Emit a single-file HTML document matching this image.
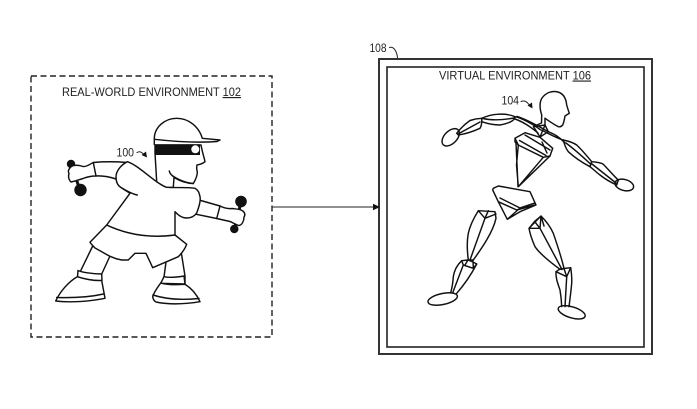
<!DOCTYPE html>
<html><head><meta charset="utf-8"><style>
html,body{margin:0;padding:0;background:#fff;width:697px;height:409px;overflow:hidden}
svg{display:block}
text{font-family:"Liberation Sans",sans-serif;font-size:11.5px;fill:#222}
.l{fill:none;stroke:#111;stroke-width:1.45;stroke-linejoin:round;stroke-linecap:round}
.f{fill:#fff;stroke:#111;stroke-width:1.45;stroke-linejoin:round}
.t{fill:none;stroke:#222;stroke-width:1;stroke-linejoin:round;stroke-linecap:round}
</style></head><body>
<svg width="697" height="409" viewBox="0 0 697 409" xmlns="http://www.w3.org/2000/svg">
<rect x="31" y="76" width="241" height="261" fill="none" stroke="#222" stroke-width="1.4" stroke-dasharray="6 3.5"/>
<rect x="379" y="59" width="273" height="295" fill="none" stroke="#333" stroke-width="2"/>
<rect x="387" y="67" width="257" height="280" fill="none" stroke="#222" stroke-width="1.6"/>
<path d="M272 207H374" stroke="#222" stroke-width="1.1" fill="none"/><path d="M380 207l-7-3.2v6.4z" fill="#111"/>

<text x="62" y="96" textLength="179" lengthAdjust="spacingAndGlyphs">REAL-WORLD ENVIRONMENT <tspan text-decoration="underline">102</tspan></text>
<text x="439" y="79.500" textLength="152" lengthAdjust="spacingAndGlyphs">VIRTUAL ENVIRONMENT <tspan text-decoration="underline">106</tspan></text>
<text x="369.500" y="52" textLength="17" lengthAdjust="spacingAndGlyphs">108</text>
<text x="116.500" y="156.500" textLength="17.500" lengthAdjust="spacingAndGlyphs">100</text>
<text x="501.500" y="104.500" textLength="17.500" lengthAdjust="spacingAndGlyphs">104</text>
<path d="M389.500 47.500C394 46 397 52 397.500 58" class="t"/>
<path d="M137 152.500C140 151 141 152 143 153.500" class="t"/><path d="M147 157.500l-1-6-4.500 3.500z" fill="#111"/>
<path d="M521 101.500C525 100 527 102 529 104.500" class="t"/><path d="M532.500 108.500l-.5-6-4.500 3z" fill="#111"/>

<!-- person: dumbbells -->
<path d="M71 164L80 190" stroke="#111" stroke-width="3"/>
<circle cx="71" cy="164" r="4.200" fill="#111"/><circle cx="80.500" cy="190" r="6.200" fill="#111"/>
<path d="M241 202L234.500 229" stroke="#111" stroke-width="3"/>
<circle cx="241" cy="201.500" r="5.800" fill="#111"/><circle cx="234.300" cy="229" r="4.200" fill="#111"/>
<!-- person: arms, hands -->
<path class="f" d="M127 162.500C115 161.500 104 161.500 93.300 162.500C90 164 87 167 83 166.500C79 165 75 165 72 166C69 168 67.500 171 69 173.500C68 177 69 180 71 182C76 181 78 180 83 178.500C87 177 91 176 95.500 176C103 175.500 110 177 116 179Z"/>
<path class="l" d="M93.300 162.500L96 176"/>
<path class="f" d="M199 200L220 206C224 208 228 209 232 208.500C236 209 240 209 242 210.500C245 212 245.500 215 244 217C244 221 242 225 239 225.500C236 225 233 222.500 230 221.500L216.700 218.500L191.500 213.300Z"/>
<path class="l" d="M220 206L216.700 218.500"/>
<!-- person: legs & shoes -->
<path class="f" d="M92.700 246L80.700 270.700V278H101.700V274L110 256Z"/>
<path class="f" d="M166 262L164 277V285H185V276L181.500 254Z"/>
<path class="f" d="M78 270.500C81 272 92 274 101.700 274L102 280.500C94 281 84 279 77.500 277Z"/>
<path class="f" d="M77.300 276.700C68 282 60 292 55.700 301C72 303 92 301 105 298.300L101.700 280.500C94 281 84 279 77.300 276.700Z"/>
<path class="l" d="M56.700 297.500C72 298 90 297 103.500 294"/>
<path class="f" d="M164 276.700C170 278 178 277 184 276L185 284L160.700 283.300Z"/>
<path class="f" d="M160.700 283C157 288 154 292 152.700 296.500C153 299 154 301 156 302C170 305 186 304 200 301.700C196 293 191 288 185 284.300C176 285 168 285 160.700 283Z"/>
<path class="l" d="M153 295C168 300 184 300 199 298.500"/>
<!-- person: shorts & shirt -->
<path class="f" d="M106.700 225L90 242.300C91 244 93 246 95 248C103 252 110 258 121.700 260H128.300L135 253.300H146L152.700 267.700L178.300 256.700C182 253 185 249 186.700 244.300L175 235C152 238 128 235 106.700 225Z"/>
<path class="f" d="M127.300 161.700C121 165 116 171 116 177C116 183 118 186 121.700 188L130 193.300L106.700 225C128 235 152 238 175 235V211.700C178 215 182 218 186.700 218C190 218 194 217 196.700 213C199 207 201 201 200 196.700C199 192 198 190 195 188.300C186 187 176 188 166.700 187.300C162 186 159 183 156.700 181.700C147 175 137 165 127.300 161.700Z"/>
<path class="l" d="M121.700 188C127 191 132 194 137.300 195"/>
<!-- person: head -->
<path class="f" d="M155 153L156.700 181.700C160 184 163 186 166.700 187.300H173.300L174 177.500C180 181 187 183.500 193.300 183.500C196 179 197.500 175 197.300 171.700C196.500 169 196.500 167 197 165C200 164.500 203 163.500 205 161.700C204 157 202 151 201 145H155Z"/>
<path class="l" d="M169.300 171C170 175 174 177 178 179C183 181.500 188 183 193.300 183.500"/>
<path class="f" d="M154.300 139.300C154 127 165 118.300 176.700 118.300C189 118.300 199 127 202.300 138.300L220 140L217 141.500C196 143 174 141.500 154.300 139.300Z"/>
<rect x="154.500" y="144.300" width="45.500" height="10.700" fill="#111"/>
<circle cx="195.300" cy="149.300" r="4" fill="#fff"/>
<path class="l" d="M154.300 139.300V144.500"/>

<!-- virtual figure: head -->
<path class="l" d="M541.700 115C539.500 108 539.500 102 542 98C546 92.500 552 90.500 558 92C563 93.500 566 98 566.700 105C567.500 108 568.500 111 569.300 113.300L565 116C564.500 119 564 122 562.700 125C561 127 559.500 127 558.300 126.700C553 124 549 121 545 118.300"/>
<path class="l" d="M541.700 115L541.500 123L533.500 126.500M545 118.300V125"/>
<!-- shoulders -->
<path class="l" d="M515 116.700C522 118 534 125 540 129.500C548 133 556 138 563.300 140M515 119C524 122 532 128 538 133M517 116.500C526 119 538 126 548 131.500C554 134 559 136.500 565 143"/>
<path class="l" d="M533.500 126.700L545 125L548.300 131.700L540 137ZM540 137L545 125"/>
<!-- left arm -->
<path class="l" d="M481.700 118.300C487 116 492 114.500 497 114.300C504 113.800 510 114.500 515 116.700C515 120 510 123 500 125C493 125 487 123.500 481.700 121.700ZM483 118.500C492 120.500 503 120 514 118"/>
<path class="l" d="M481.700 118.300C477 118.500 473 119.500 470 120.500C465 124 460 129 456.700 133.300L458.300 135C465 134 473 131.500 480 128.300C482 125 482 122 481.700 118.300ZM458 134L480 122"/>
<ellipse cx="450.700" cy="137.300" rx="10.500" ry="6.300" transform="rotate(-45 450.700 137.300)" class="l"/>
<!-- right arm -->
<path class="l" d="M563.300 140C568 141 573 142.500 576.700 145C582 150 587 156 591.700 161.700L590 166.700C583 163 574 157 568.300 151.700C565.500 148 564.500 145 563.300 140ZM566 143C574 149 583 157 590.500 164"/>
<path class="l" d="M591.700 161.700C596 162 600 162.500 603 164C608 169 613 175 618.300 180L616.700 185C610 182 605 179 600 175C596 172 593 169 590 166.700ZM592 164L616 183"/>
<ellipse cx="624.300" cy="185" rx="9.500" ry="5.500" transform="rotate(15 624.300 185)" class="l"/>
<!-- torso -->
<path class="l" d="M515 138.300L525 132.700L540 137.300L552.700 148.300L550 156L543.300 157.300L518.300 145ZM525 135L550 150M519.500 140.500L546 155.500M542 142L547 153M515 138.300V142L518.300 145"/>
<path class="l" d="M518.300 145L516.500 165L518.300 186.700M516 143L518 186.700M518.300 186.700L550 156M518.300 186.700L543.300 157.300"/>
<!-- pelvis -->
<path class="l" d="M493.300 188.300L498.300 186L530 191.700L536 205L520 211.700L507.300 219.300L498.300 201.700L492.700 190ZM498.300 201.700L516.700 210L535 205M500 198L520 208L535 203M507.300 219.300L520 208"/>
<!-- left leg -->
<path class="l" d="M478.300 210.700L495 211.700L496 218.300C493 232 482 248 473.300 260H468.300C467 250 467 240 468.300 233.300C470 225 475 216 478.300 210.700ZM478.300 210.700L485 218.300L488.300 210.700M485 218.300L496 214M485 218.300L470 260"/>
<path class="l" d="M461.700 260.700L468 260L473 262L476.700 264L473.300 268.300L463.300 265ZM468 260L465 265M473 260L473.300 268.300"/>
<path class="l" d="M461.700 260.700C456 266 454 272 453.300 276.700C453 282 452 288 450.700 292.700M476.700 264C472 273 464 285 456.700 293.300M463.300 265L452.700 292.700"/>
<ellipse cx="442.700" cy="299" rx="15" ry="5.500" transform="rotate(-12 442.700 299)" class="l"/>
<!-- right leg -->
<path class="l" d="M541 216L535 221L529 228.300L540 228.300ZM541 216C547 222 551 228 553.300 233.300C557 244 561 256 564 268.300L560 269.300C550 262 540 254 535 246.700C532 240 530 234 529 228.300ZM540 228.300L562 269.500M535 222L540 228.300M541 216L544 226"/>
<path class="l" d="M556 271.700L560 269L570.700 267.700L566.700 276.700ZM564 268.500L566.700 276.700"/>
<path class="l" d="M556 271.700C555.500 278 558 284 560 290C561 296 561.500 301 561.700 306.700M570.700 267.700C571.500 273 572 278 571.700 283.300C571 291 570 299 569 306.700M566.700 276.700L565 306.700"/>
<ellipse cx="571.700" cy="312.300" rx="14" ry="5.500" transform="rotate(17 571.700 312.300)" class="l"/>
</svg>
</body></html>
